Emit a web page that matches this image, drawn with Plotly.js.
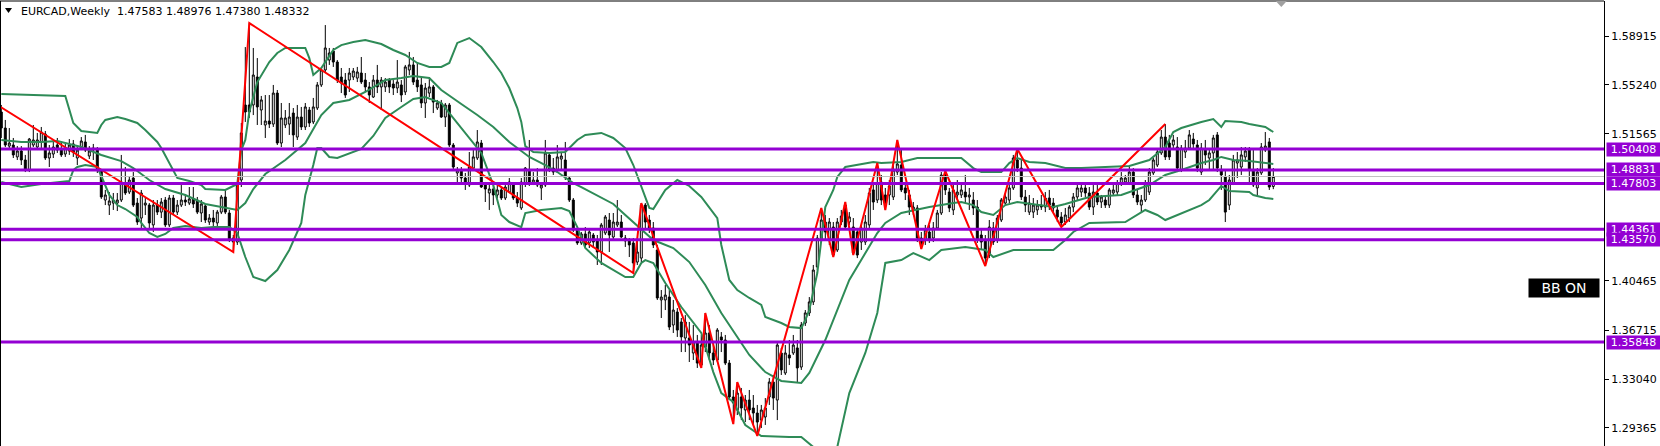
<!DOCTYPE html>
<html>
<head>
<meta charset="utf-8">
<script src="https://cdn.plot.ly/plotly-3.0.1.min.js"></script>
<style>
html,body{margin:0;padding:0;overflow:hidden;background:#fff;}
#chart{width:1660px;height:446px;}
</style>
</head>
<body>
<div id="chart"></div>
<script>
// ---- EURCAD weekly candles (bar 0 = leftmost visible bar) ----
const barOpen = [1.5320,1.5199,1.5063,1.5071,1.4981,1.5026,1.4958,1.4882,1.5071,1.5056,1.5094,1.5154,1.4973,1.5003,1.5071,1.5041,1.5003,1.5026,1.5079,1.4973,1.5048,1.5094,1.4988,1.5033,1.5033,1.4882,1.4656,1.4618,1.4633,1.4633,1.4656,1.4784,1.4716,1.4822,1.4633,1.4520,1.4618,1.4618,1.4468,1.4618,1.4565,1.4656,1.4468,1.4671,1.4565,1.4618,1.4656,1.4633,1.4664,1.4656,1.4558,1.4611,1.4490,1.4520,1.4483,1.4565,1.4679,1.4558,1.4369,1.4339,1.4807,1.5373,1.5373,1.5373,1.5584,1.5335,1.5222,1.5252,1.5229,1.5463,1.5086,1.5222,1.5229,1.5312,1.5131,1.5282,1.5207,1.5335,1.5245,1.5350,1.5524,1.5637,1.5712,1.5780,1.5697,1.5584,1.5561,1.5561,1.5584,1.5576,1.5614,1.5561,1.5509,1.5433,1.5561,1.5509,1.5509,1.5561,1.5531,1.5501,1.5524,1.5471,1.5637,1.5675,1.5561,1.5524,1.5388,1.5463,1.5509,1.5350,1.5388,1.5282,1.5373,1.5071,1.4860,1.4882,1.4822,1.4769,1.4897,1.4973,1.5086,1.4777,1.4709,1.4739,1.4694,1.4732,1.4671,1.4716,1.4769,1.4671,1.4596,1.4777,1.4882,1.4784,1.4807,1.4747,1.4769,1.4996,1.4897,1.4882,1.4965,1.4958,1.4822,1.4656,1.4430,1.4332,1.4400,1.4332,1.4392,1.4354,1.4264,1.4407,1.4505,1.4377,1.4468,1.4490,1.4369,1.4354,1.4332,1.4188,1.4218,1.4618,1.4505,1.4445,1.4279,1.3902,1.3902,1.3924,1.3713,1.3811,1.3736,1.3615,1.3615,1.3502,1.3585,1.3411,1.3547,1.3653,1.3502,1.3449,1.3623,1.3600,1.3426,1.3170,1.3072,1.3170,1.3072,1.3147,1.3087,1.3049,1.2996,1.3019,1.3170,1.3283,1.3147,1.3502,1.3351,1.3487,1.3502,1.3540,1.3396,1.3728,1.3804,1.3887,1.4151,1.4354,1.4490,1.4354,1.4452,1.4279,1.4490,1.4618,1.4490,1.4452,1.4415,1.4339,1.4339,1.4468,1.4732,1.4656,1.4792,1.4694,1.4694,1.4679,1.4867,1.4920,1.4747,1.4694,1.4581,1.4596,1.4369,1.4354,1.4415,1.4369,1.4445,1.4558,1.4845,1.4716,1.4581,1.4694,1.4694,1.4716,1.4679,1.4656,1.4603,1.4392,1.4354,1.4241,1.4445,1.4354,1.4505,1.4633,1.4656,1.4747,1.4958,1.4897,1.4679,1.4565,1.4565,1.4581,1.4618,1.4603,1.4671,1.4633,1.4581,1.4528,1.4490,1.4520,1.4603,1.4679,1.4716,1.4747,1.4709,1.4603,1.4709,1.4641,1.4656,1.4618,1.4709,1.4716,1.4784,1.4792,1.4784,1.4867,1.4694,1.4618,1.4656,1.4716,1.4860,1.4920,1.5011,1.5131,1.5086,1.5071,1.5056,1.4882,1.5018,1.5048,1.5116,1.5071,1.4867,1.5033,1.4973,1.5011,1.5147,1.4882,1.4830,1.4618,1.4784,1.4935,1.4905,1.4981,1.5033,1.4882,1.4747,1.4860,1.5033,1.5094,1.47583];
const barHigh = [1.5373,1.5260,1.5199,1.5124,1.5063,1.5063,1.4996,1.5124,1.5222,1.5162,1.5207,1.5177,1.5071,1.5109,1.5124,1.5086,1.5079,1.5116,1.5109,1.5063,1.5131,1.5147,1.5063,1.5079,1.5056,1.4890,1.4732,1.4716,1.4709,1.4709,1.4996,1.4905,1.4837,1.4867,1.4671,1.4732,1.4671,1.4633,1.4656,1.4656,1.4671,1.4679,1.4694,1.4694,1.4656,1.4769,1.4701,1.4754,1.4754,1.4679,1.4656,1.4626,1.4550,1.4581,1.4581,1.4694,1.4732,1.4581,1.4392,1.4784,1.5237,1.5810,1.5991,1.5803,1.5727,1.5441,1.5448,1.5448,1.5524,1.5486,1.5388,1.5335,1.5388,1.5350,1.5373,1.5358,1.5388,1.5358,1.5426,1.5546,1.5652,1.5976,1.5803,1.5803,1.5712,1.5652,1.5614,1.5652,1.5652,1.5660,1.5735,1.5614,1.5546,1.5599,1.5675,1.5584,1.5576,1.5576,1.5561,1.5712,1.5561,1.5675,1.5773,1.5735,1.5697,1.5584,1.5539,1.5584,1.5524,1.5411,1.5411,1.5388,1.5388,1.5086,1.4905,1.4905,1.4860,1.5018,1.5033,1.5184,1.5109,1.4792,1.4792,1.4769,1.4792,1.4754,1.4792,1.4822,1.4784,1.4716,1.4822,1.4905,1.5109,1.4867,1.4897,1.4792,1.5109,1.5011,1.4973,1.5071,1.5018,1.5094,1.4830,1.4671,1.4445,1.4415,1.4452,1.4445,1.4407,1.4392,1.4483,1.4543,1.4558,1.4558,1.4656,1.4543,1.4392,1.4369,1.4369,1.4354,1.4633,1.4633,1.4543,1.4490,1.4317,1.3977,1.4015,1.3977,1.3902,1.3841,1.3766,1.3788,1.3736,1.3713,1.3638,1.3638,1.3804,1.3713,1.3562,1.3690,1.3660,1.3638,1.3449,1.3223,1.3283,1.3238,1.3185,1.3223,1.3185,1.3110,1.3110,1.3162,1.3313,1.3336,1.3577,1.3540,1.3562,1.3600,1.3638,1.3600,1.3736,1.3826,1.3924,1.4166,1.4392,1.4596,1.4543,1.4520,1.4490,1.4520,1.4581,1.4641,1.4565,1.4520,1.4445,1.4468,1.4543,1.4747,1.4784,1.4935,1.4845,1.4747,1.4807,1.4920,1.5109,1.5033,1.4784,1.4732,1.4641,1.4618,1.4415,1.4468,1.4468,1.4490,1.4581,1.4867,1.4875,1.4747,1.4769,1.4807,1.4784,1.4845,1.4747,1.4716,1.4656,1.4445,1.4392,1.4505,1.4490,1.4543,1.4671,1.4709,1.4769,1.4996,1.5041,1.4958,1.4732,1.4694,1.4671,1.4656,1.4694,1.4716,1.4732,1.4671,1.4618,1.4565,1.4596,1.4618,1.4709,1.4769,1.4784,1.4769,1.4754,1.4769,1.4769,1.4694,1.4679,1.4747,1.4784,1.4807,1.4867,1.4845,1.4920,1.4897,1.4732,1.4694,1.4807,1.4897,1.4973,1.5048,1.5184,1.5229,1.5147,1.5147,1.5131,1.5071,1.5109,1.5184,1.5162,1.5109,1.5086,1.5109,1.5048,1.5147,1.5169,1.4920,1.4882,1.4845,1.4996,1.5018,1.5056,1.5056,1.5056,1.5033,1.4897,1.5086,1.5169,1.5124,1.48976];
const barLow = [1.5124,1.5056,1.5048,1.4973,1.4958,1.4920,1.4867,1.4867,1.5056,1.5033,1.5048,1.4958,1.4905,1.4973,1.5011,1.4981,1.4981,1.4996,1.4981,1.4920,1.5033,1.5018,1.4965,1.4958,1.4860,1.4664,1.4618,1.4543,1.4581,1.4573,1.4641,1.4694,1.4701,1.4603,1.4468,1.4445,1.4543,1.4445,1.4415,1.4543,1.4520,1.4452,1.4452,1.4550,1.4543,1.4603,1.4611,1.4618,1.4596,1.4550,1.4490,1.4483,1.4468,1.4452,1.4460,1.4550,1.4550,1.4339,1.4264,1.4317,1.4754,1.5245,1.5275,1.5297,1.5222,1.5222,1.5124,1.5199,1.5207,1.5071,1.5056,1.5199,1.5147,1.5056,1.5109,1.5184,1.5184,1.5207,1.5229,1.5335,1.5509,1.5622,1.5675,1.5660,1.5539,1.5463,1.5426,1.5471,1.5561,1.5546,1.5531,1.5471,1.5388,1.5426,1.5463,1.5335,1.5471,1.5463,1.5448,1.5463,1.5395,1.5448,1.5599,1.5524,1.5471,1.5350,1.5275,1.5433,1.5312,1.5335,1.5275,1.5207,1.5056,1.4882,1.4792,1.4792,1.4732,1.4754,1.4882,1.4958,1.4747,1.4641,1.4581,1.4618,1.4671,1.4656,1.4656,1.4709,1.4656,1.4603,1.4581,1.4754,1.4762,1.4769,1.4754,1.4656,1.4754,1.4867,1.4845,1.4867,1.4882,1.4807,1.4641,1.4415,1.4317,1.4317,1.4294,1.4294,1.4294,1.4166,1.4166,1.4392,1.4264,1.4354,1.4452,1.4369,1.4302,1.4226,1.4105,1.4166,1.4188,1.4430,1.4407,1.4294,1.3902,1.3766,1.3826,1.3675,1.3653,1.3623,1.3509,1.3509,1.3434,1.3449,1.3389,1.3389,1.3509,1.3449,1.3411,1.3434,1.3509,1.3411,1.3147,1.2966,1.3034,1.2996,1.2981,1.2996,1.2959,1.2876,1.2936,1.2959,1.3110,1.3072,1.2996,1.3336,1.3336,1.3411,1.3487,1.3283,1.3374,1.3706,1.3781,1.3864,1.4128,1.4339,1.4354,1.4317,1.4226,1.4264,1.4468,1.4430,1.4468,1.4241,1.4218,1.4279,1.4317,1.4445,1.4581,1.4633,1.4618,1.4581,1.4618,1.4656,1.4845,1.4716,1.4656,1.4543,1.4543,1.4339,1.4286,1.4317,1.4332,1.4339,1.4430,1.4543,1.4694,1.4565,1.4543,1.4656,1.4671,1.4633,1.4581,1.4543,1.4332,1.4279,1.4158,1.4218,1.4317,1.4332,1.4490,1.4611,1.4633,1.4732,1.4867,1.4656,1.4565,1.4543,1.4520,1.4543,1.4581,1.4565,1.4581,1.4558,1.4490,1.4452,1.4468,1.4490,1.4565,1.4656,1.4679,1.4679,1.4581,1.4543,1.4618,1.4596,1.4596,1.4596,1.4686,1.4694,1.4762,1.4769,1.4769,1.4671,1.4618,1.4558,1.4641,1.4694,1.4845,1.4905,1.4996,1.4958,1.4958,1.5033,1.4867,1.4867,1.4973,1.5033,1.5033,1.4867,1.4845,1.4920,1.4882,1.4882,1.4867,1.4732,1.4490,1.4581,1.4769,1.4822,1.4845,1.4943,1.4769,1.4754,1.4679,1.4845,1.5018,1.4732,1.47380];
const barClose = [1.5199,1.5071,1.5086,1.4996,1.5026,1.4958,1.4882,1.5116,1.5109,1.5109,1.5169,1.4973,1.5011,1.5056,1.5033,1.4996,1.5048,1.5071,1.5018,1.5033,1.5101,1.5033,1.5026,1.5048,1.4882,1.4679,1.4694,1.4649,1.4656,1.4656,1.4792,1.4709,1.4807,1.4618,1.4490,1.4709,1.4633,1.4483,1.4618,1.4565,1.4641,1.4468,1.4671,1.4565,1.4618,1.4656,1.4641,1.4664,1.4626,1.4565,1.4626,1.4505,1.4520,1.4490,1.4565,1.4679,1.4565,1.4354,1.4339,1.4769,1.5162,1.5320,1.5320,1.5599,1.5358,1.5411,1.5252,1.5229,1.5463,1.5086,1.5275,1.5275,1.5282,1.5147,1.5282,1.5207,1.5358,1.5237,1.5358,1.5524,1.5637,1.5803,1.5765,1.5697,1.5561,1.5539,1.5448,1.5614,1.5629,1.5622,1.5546,1.5509,1.5448,1.5561,1.5509,1.5561,1.5546,1.5509,1.5501,1.5546,1.5448,1.5660,1.5675,1.5546,1.5509,1.5388,1.5501,1.5509,1.5395,1.5388,1.5282,1.5373,1.5071,1.4905,1.4882,1.4822,1.4784,1.4905,1.4981,1.5094,1.4754,1.4739,1.4739,1.4694,1.4732,1.4671,1.4754,1.4792,1.4671,1.4633,1.4792,1.4897,1.4784,1.4807,1.4769,1.4769,1.5011,1.4882,1.4867,1.4981,1.4988,1.4830,1.4656,1.4430,1.4332,1.4400,1.4317,1.4415,1.4339,1.4264,1.4468,1.4528,1.4392,1.4490,1.4490,1.4377,1.4347,1.4317,1.4181,1.4264,1.4618,1.4490,1.4445,1.4317,1.3917,1.3924,1.3939,1.3698,1.3826,1.3675,1.3623,1.3736,1.3562,1.3585,1.3426,1.3562,1.3653,1.3502,1.3449,1.3675,1.3600,1.3426,1.3170,1.3125,1.3200,1.3087,1.3147,1.3072,1.3049,1.2981,1.3072,1.3087,1.3283,1.3162,1.3562,1.3374,1.3502,1.3464,1.3562,1.3389,1.3713,1.3804,1.3887,1.4128,1.4369,1.4505,1.4415,1.4490,1.4241,1.4490,1.4535,1.4452,1.4528,1.4256,1.4241,1.4445,1.4490,1.4709,1.4641,1.4784,1.4656,1.4633,1.4762,1.4882,1.4928,1.4732,1.4709,1.4603,1.4603,1.4369,1.4332,1.4430,1.4354,1.4445,1.4558,1.4845,1.4732,1.4596,1.4732,1.4716,1.4732,1.4679,1.4694,1.4596,1.4354,1.4339,1.4218,1.4452,1.4339,1.4520,1.4656,1.4679,1.4747,1.4973,1.4897,1.4679,1.4618,1.4633,1.4618,1.4618,1.4603,1.4671,1.4618,1.4596,1.4528,1.4483,1.4543,1.4603,1.4679,1.4747,1.4747,1.4709,1.4603,1.4716,1.4641,1.4679,1.4618,1.4732,1.4732,1.4784,1.4822,1.4822,1.4867,1.4694,1.4641,1.4656,1.4784,1.4867,1.4958,1.5018,1.5131,1.4981,1.4981,1.5109,1.4897,1.5048,1.5048,1.5147,1.5079,1.4897,1.5048,1.4996,1.5011,1.5124,1.4897,1.4845,1.4565,1.4807,1.4958,1.4958,1.4996,1.5026,1.4882,1.4769,1.4867,1.5056,1.5063,1.4754,1.48332];

// ---- Bollinger bands (bar index, price) ----
const bbUpperIdx = [0,16,18,20,24,25,26,29,31,34,36,39,40,42,44,47,50,51,56,59,60,61,62,64,67,69,71,76,77,78,79,80,83,85,88,91,95,98,101,104,107,110,112,114,117,120,123,125,127,129,130,131,133,137,141,144,146,150,153,156,158,160,162,163,166,169,172,175,179,180,181,182,184,187,190,191,195,197,200,201,202,204,205,206,208,209,211,215,218,220,225,229,235,240,243,245,250,252,254,257,261,266,270,275,282,287,291,293,295,300,303,305,306,310,312,316,318];
const bbUpperVal = [1.5456,1.5441,1.5237,1.5177,1.5162,1.5222,1.5260,1.5282,1.5267,1.5237,1.5184,1.5094,1.5048,1.4935,1.4822,1.4799,1.4769,1.4739,1.4732,1.4777,1.5033,1.5109,1.5320,1.5546,1.5697,1.5765,1.5803,1.5803,1.5727,1.5599,1.5622,1.5652,1.5788,1.5825,1.5848,1.5863,1.5833,1.5788,1.5750,1.5690,1.5660,1.5660,1.5690,1.5841,1.5878,1.5810,1.5697,1.5614,1.5501,1.5350,1.5245,1.5063,1.5018,1.5011,1.5018,1.5109,1.5147,1.5162,1.5124,1.5048,1.4920,1.4754,1.4596,1.4588,1.4732,1.4807,1.4762,1.4679,1.4520,1.4317,1.4188,1.4053,1.3977,1.3917,1.3864,1.3773,1.3728,1.3698,1.3690,1.3751,1.3826,1.4105,1.4354,1.4603,1.4732,1.4830,1.4905,1.4928,1.4943,1.4935,1.4943,1.4973,1.4973,1.4973,1.4897,1.4867,1.4867,1.4935,1.4973,1.4943,1.4935,1.4897,1.4897,1.4905,1.4913,1.4958,1.5056,1.5169,1.5199,1.5245,1.5267,1.5207,1.5252,1.5245,1.5229,1.5207,1.5169];
const bbMidIdx = [0,5,10,14,16,20,25,30,33,37,41,46,51,56,59,61,63,66,71,76,80,83,87,91,96,100,103,107,110,115,119,123,127,132,136,139,143,145,150,153,156,160,163,168,172,176,180,184,187,191,195,200,202,206,212,219,221,225,232,238,240,243,245,248,251,254,259,263,266,272,280,287,291,295,300,303,305,308,312,316,318];
const bbMidVal = [1.5109,1.5094,1.5094,1.5101,1.5086,1.5056,1.4996,1.4950,1.4897,1.4807,1.4739,1.4694,1.4626,1.4596,1.4581,1.4633,1.4739,1.4852,1.4958,1.5086,1.5297,1.5388,1.5411,1.5471,1.5561,1.5576,1.5592,1.5576,1.5486,1.5380,1.5297,1.5207,1.5094,1.4981,1.4920,1.4867,1.4784,1.4754,1.4671,1.4626,1.4543,1.4437,1.4354,1.4294,1.4188,1.4015,1.3804,1.3623,1.3487,1.3358,1.3291,1.3276,1.3351,1.3600,1.4053,1.4407,1.4483,1.4558,1.4603,1.4633,1.4641,1.4618,1.4565,1.4543,1.4618,1.4641,1.4618,1.4603,1.4626,1.4679,1.4694,1.4769,1.4845,1.4882,1.4935,1.4958,1.4981,1.4958,1.4950,1.4935,1.4928];
const bbLowerIdx = [0,5,10,15,17,18,19,21,24,25,27,29,31,34,35,37,39,41,43,46,50,53,57,59,61,63,66,69,72,75,76,78,79,80,82,84,86,90,93,96,100,103,106,110,112,116,120,123,125,127,130,131,135,140,142,144,146,150,153,156,158,160,161,163,166,170,175,178,180,183,186,190,197,200,203,206,209,212,216,219,221,225,228,232,235,241,246,248,253,259,263,266,268,272,281,286,289,291,295,300,302,304,305,307,312,313,316,318];
const bbLowerVal = [1.4792,1.4754,1.4777,1.4792,1.4799,1.4882,1.4905,1.4920,1.4905,1.4837,1.4694,1.4618,1.4588,1.4528,1.4483,1.4407,1.4377,1.4400,1.4445,1.4460,1.4445,1.4452,1.4452,1.4407,1.4226,1.4075,1.4045,1.4128,1.4279,1.4483,1.4694,1.4920,1.5048,1.5048,1.4981,1.4973,1.4996,1.5041,1.5139,1.5275,1.5358,1.5418,1.5433,1.5388,1.5312,1.5162,1.5011,1.4769,1.4543,1.4490,1.4452,1.4558,1.4581,1.4596,1.4573,1.4452,1.4294,1.4181,1.4128,1.4075,1.4075,1.4181,1.4203,1.4181,1.4030,1.3849,1.3653,1.3358,1.3200,1.3132,1.2959,1.2876,1.2868,1.2868,1.2793,1.2695,1.2793,1.3200,1.3502,1.3804,1.4181,1.4203,1.4256,1.4203,1.4279,1.4302,1.4279,1.4226,1.4279,1.4279,1.4279,1.4354,1.4415,1.4483,1.4490,1.4581,1.4543,1.4505,1.4558,1.4618,1.4656,1.4732,1.4762,1.4724,1.4716,1.4694,1.4671,1.4664];

// ---- ZigZag pivots ----
const zigzagIdx = [-1,58,62,158,160,175,176,183,184,189,205,208,211,213,219,221,224,230,236,246,254,265,291];
const zigzagVal = [1.5373,1.4264,1.5991,1.4105,1.4633,1.3389,1.3804,1.2966,1.3283,1.2876,1.4596,1.4226,1.4641,1.4241,1.4935,1.4581,1.5109,1.4286,1.4875,1.4158,1.5041,1.4452,1.5229];

// ---- Horizontal levels and axis ----
const levelVals = [1.50408,1.48831,1.47803,1.44361,1.43570,1.35848];
const levelText = ["1.50408","1.48831","1.47803","1.44361","1.43570","1.35848"];
const bidPrice = 1.48332;
const tickVals = [1.58915,1.55240,1.51565,1.40465,1.36715,1.33040,1.29365];
const tickText = ["1.58915","1.55240","1.51565","1.40465","1.36715","1.33040","1.29365"];
const titleText = "EURCAD,Weekly\u00a0 1.47583 1.48976 1.47380 1.48332";
const shiftBar = 320;

const barIdx = barClose.map((_, i) => i);
const GREEN = '#2E8B57', VIOLET = '#9400D3';
const FONT = 'DejaVu Sans, Verdana, sans-serif';

const traces = [
  {type:'scatter', mode:'lines', x:bbUpperIdx, y:bbUpperVal, line:{color:GREEN, width:2}, hoverinfo:'skip'},
  {type:'scatter', mode:'lines', x:bbMidIdx, y:bbMidVal, line:{color:GREEN, width:2}, hoverinfo:'skip'},
  {type:'scatter', mode:'lines', x:bbLowerIdx, y:bbLowerVal, line:{color:GREEN, width:2}, hoverinfo:'skip'},
  {type:'candlestick', x:barIdx, open:barOpen, high:barHigh, low:barLow, close:barClose,
   increasing:{line:{color:'#000000', width:1}, fillcolor:'#ffffff'},
   decreasing:{line:{color:'#000000', width:1}, fillcolor:'#000000'},
   whiskerwidth:0, hoverinfo:'skip'},
  {type:'scatter', mode:'lines', x:zigzagIdx, y:zigzagVal, line:{color:'#FF0000', width:2}, hoverinfo:'skip'}
];

const shapes = [
  {type:'line', xref:'paper', x0:0, x1:1, yref:'y', y0:bidPrice, y1:bidPrice, line:{color:'#C0C0C0', width:1}}
];
levelVals.forEach(v => shapes.push({type:'line', xref:'paper', x0:0, x1:1, yref:'y', y0:v, y1:v, line:{color:VIOLET, width:3}}));
shapes.push({type:'line', xref:'paper', yref:'paper', x0:0, x1:1, y0:1, y1:1, line:{color:'#000', width:1}});
shapes.push({type:'line', xref:'paper', yref:'paper', x0:0, x1:0, y0:0, y1:1, line:{color:'#000', width:2}});
// small black triangle before the title
shapes.push({type:'path', xref:'paper', yref:'paper', path:'M 0.0031,0.9843 L 0.0075,0.9843 L 0.0053,0.9730 Z', fillcolor:'#000', line:{color:'#000', width:0}});
// grey chart-shift marker at top
shapes.push({type:'path', xref:'x', yref:'paper', path:`M ${shiftBar-1.4},1 L ${shiftBar+1.4},1 L ${shiftBar},0.9865 Z`, fillcolor:'#A0A0A0', line:{color:'#A0A0A0', width:0}});

const annotations = [
  {xref:'paper', yref:'paper', x:19/1604, y:(446-11.5)/445, xanchor:'left', yanchor:'middle', showarrow:false,
   text:titleText, font:{family:FONT, size:11, color:'#000'}},
  {xref:'paper', yref:'paper', x:1564/1604, y:(446-288)/445, xanchor:'center', yanchor:'middle', showarrow:false,
   text:'BB ON', bgcolor:'#000000', width:70, height:18, borderpad:0, font:{family:FONT, size:14, color:'#ffffff'}}
];
levelVals.forEach((v, k) => annotations.push({
  xref:'paper', x:1, xanchor:'left', xshift:2, yref:'y', y:v, yanchor:'middle', showarrow:false,
  text:levelText[k], bgcolor:VIOLET, width:53, height:13, borderpad:0,
  font:{family:FONT, size:11, color:'#ffffff'}
}));

const layout = {
  width:1660, height:446,
  margin:{l:0, r:56, t:1, b:0, pad:0},
  paper_bgcolor:'#ffffff', plot_bgcolor:'#ffffff',
  showlegend:false,
  xaxis:{range:[-0.325, 400.675], visible:false, showgrid:false, zeroline:false, rangeslider:{visible:false}, fixedrange:true},
  yaxis:{range:[1.28003, 1.61574], side:'right', tickvals:tickVals, ticktext:tickText,
         ticks:'outside', ticklen:4, tickcolor:'#000', tickwidth:1,
         showline:true, linecolor:'#000', linewidth:1, showgrid:false, zeroline:false,
         tickfont:{family:FONT, size:11, color:'#000'}, automargin:false, fixedrange:true},
  shapes:shapes, annotations:annotations
};

Plotly.newPlot('chart', traces, layout, {staticPlot:true, displayModeBar:false});
</script>
</body>
</html>
